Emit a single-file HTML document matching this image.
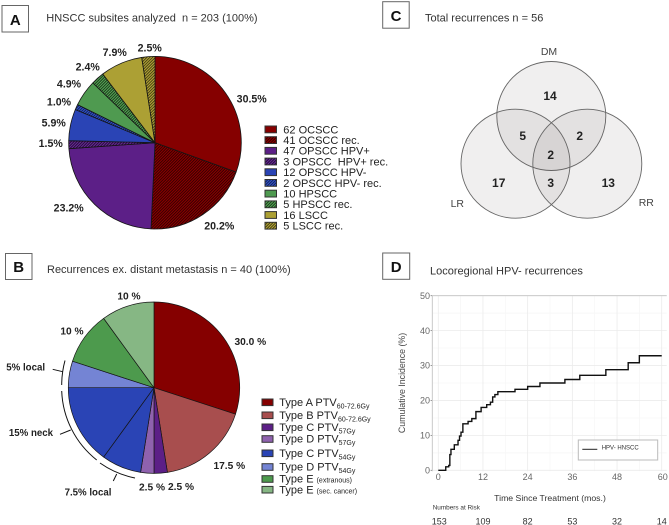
<!DOCTYPE html>
<html lang="en">
<head>
<meta charset="utf-8">
<title>HNSCC recurrence figure</title>
<style>
html,body{margin:0;padding:0;background:#fff}
svg{display:block;position:absolute;left:0;top:0;filter:blur(0.3px)}
text{font-family:"Liberation Sans",sans-serif;white-space:pre;fill:#222}
.ttl{font-size:11px;fill:#333}
.pl{font-size:10.6px;font-weight:bold;text-anchor:middle;fill:#222}
.plb{font-size:10.2px;font-weight:bold;text-anchor:middle;fill:#222}
.pls{font-size:9.7px;font-weight:bold;text-anchor:middle;fill:#222}
.lg{font-size:11px;fill:#222}
.sb{font-size:7px}
.letter{font-size:15px;font-weight:bold;text-anchor:middle;fill:#111}
.box{fill:#fff;stroke:#666;stroke-width:1}
.sw{stroke:#333;stroke-width:1}
.vn{font-size:12px;font-weight:bold;text-anchor:middle;fill:#222}
.vl{font-size:10.5px;text-anchor:middle;fill:#444}
.tk{font-size:9px;fill:#666;text-anchor:middle}
</style>
</head>
<body>
<svg id="fig" width="669" height="525" viewBox="0 0 669 525" xmlns="http://www.w3.org/2000/svg">
<defs>
<pattern id="h-red" patternUnits="userSpaceOnUse" width="2" height="2" patternTransform="rotate(-45)"><rect width="2" height="2" fill="#8f0000"/><rect width="2" height="0.9" fill="#2a0000"/></pattern>
<pattern id="h-pur" patternUnits="userSpaceOnUse" width="2" height="2" patternTransform="rotate(-45)"><rect width="2" height="2" fill="#6a2a98"/><rect width="2" height="0.9" fill="#1e0a30"/></pattern>
<pattern id="h-blu" patternUnits="userSpaceOnUse" width="2" height="2" patternTransform="rotate(-45)"><rect width="2" height="2" fill="#3355cc"/><rect width="2" height="0.9" fill="#101c50"/></pattern>
<pattern id="h-grn" patternUnits="userSpaceOnUse" width="2" height="2" patternTransform="rotate(-45)"><rect width="2" height="2" fill="#58a858"/><rect width="2" height="0.9" fill="#143014"/></pattern>
<pattern id="h-oli" patternUnits="userSpaceOnUse" width="2" height="2" patternTransform="rotate(-45)"><rect width="2" height="2" fill="#b8aa38"/><rect width="2" height="0.9" fill="#3a3410"/></pattern>
</defs>

<!-- Panel A -->
<rect class="box" x="2" y="5.5" width="26.5" height="26.5"/>
<text class="letter" x="15.3" y="25">A</text>
<text class="ttl" x="46.3" y="21.5">HNSCC subsites analyzed  n = 203 (100%)</text>
<g id="pieA"></g>
<text class="pl" x="251.7" y="102.5">30.5%</text>
<text class="pl" x="219.3" y="229.5">20.2%</text>
<text class="pl" x="68.7" y="211.5">23.2%</text>
<text class="pl" x="50.7" y="147">1.5%</text>
<text class="pl" x="53.7" y="126.5">5.9%</text>
<text class="pl" x="59" y="105.5">1.0%</text>
<text class="pl" x="69" y="87.5">4.9%</text>
<text class="pl" x="87.7" y="70.5">2.4%</text>
<text class="pl" x="114.7" y="56">7.9%</text>
<text class="pl" x="149.7" y="51.5">2.5%</text>
<g>
<rect class="sw" x="265" y="126" width="11.5" height="6.8" fill="#850000"/><text class="lg" x="283.3" y="133.3">62 OCSCC</text>
<rect class="sw" x="265" y="136.7" width="11.5" height="6.8" fill="url(#h-red)"/><text class="lg" x="283.3" y="144">41 OCSCC rec.</text>
<rect class="sw" x="265" y="147.4" width="11.5" height="6.8" fill="#5c1f87"/><text class="lg" x="283.3" y="154.7">47 OPSCC HPV+</text>
<rect class="sw" x="265" y="158.1" width="11.5" height="6.8" fill="url(#h-pur)"/><text class="lg" x="283.3" y="165.4">3 OPSCC  HPV+ rec.</text>
<rect class="sw" x="265" y="168.8" width="11.5" height="6.8" fill="#2a44b5"/><text class="lg" x="283.3" y="176.1">12 OPSCC HPV-</text>
<rect class="sw" x="265" y="179.5" width="11.5" height="6.8" fill="url(#h-blu)"/><text class="lg" x="283.3" y="186.8">2 OPSCC HPV- rec.</text>
<rect class="sw" x="265" y="190.2" width="11.5" height="6.8" fill="#4f9a50"/><text class="lg" x="283.3" y="197.5">10 HPSCC</text>
<rect class="sw" x="265" y="200.9" width="11.5" height="6.8" fill="url(#h-grn)"/><text class="lg" x="283.3" y="208.2">5 HPSCC rec.</text>
<rect class="sw" x="265" y="211.6" width="11.5" height="6.8" fill="#aca034"/><text class="lg" x="283.3" y="218.9">16 LSCC</text>
<rect class="sw" x="265" y="222.3" width="11.5" height="6.8" fill="url(#h-oli)"/><text class="lg" x="283.3" y="229.6">5 LSCC rec.</text>
</g>

<!-- Panel B -->
<rect class="box" x="5.5" y="253.5" width="26.5" height="26"/>
<text class="letter" x="18.7" y="272">B</text>
<text class="ttl" x="47" y="273">Recurrences ex. distant metastasis n = 40 (100%)</text>
<g id="pieB"></g>
<g fill="none" stroke="#111" stroke-width="1">
<path d="M65 360.5 A92.5 92.5 0 0 0 61.7 385"/>
<path d="M61.7 391 A92.5 92.5 0 0 0 96.7 460"/>
<path d="M100 463 A92.5 92.5 0 0 0 135 478"/>
<path d="M52.7 369.3 L62.7 371.7"/>
<path d="M60 434.3 L70.7 430"/>
<path d="M113.3 481 L116.7 474"/>
</g>
<text class="plb" x="250.3" y="345">30.0 %</text>
<text class="plb" x="229.3" y="469">17.5 %</text>
<text class="plb" x="181" y="490">2.5 %</text>
<text class="plb" x="152" y="490.3">2.5 %</text>
<text class="pls" x="88" y="495.5">7.5% local</text>
<text class="pls" x="31" y="435.8">15% neck</text>
<text class="pls" x="25.7" y="370.5">5% local</text>
<text class="plb" x="72" y="334.3">10 %</text>
<text class="plb" x="129" y="299.3">10 %</text>
<g>
<rect class="sw" x="262" y="399" width="11" height="6.6" fill="#850000"/><text class="lg" x="279.3" y="406">Type A PTV<tspan class="sb" dy="2.5">60-72.6Gy</tspan></text>
<rect class="sw" x="262" y="412" width="11" height="6.6" fill="#a84e4e"/><text class="lg" x="279.3" y="419">Type B PTV<tspan class="sb" dy="2.5">60-72.6Gy</tspan></text>
<rect class="sw" x="262" y="424" width="11" height="6.6" fill="#5c1f87"/><text class="lg" x="279.3" y="431">Type C PTV<tspan class="sb" dy="2.5">57Gy</tspan></text>
<rect class="sw" x="262" y="435.7" width="11" height="6.6" fill="#8f62ae"/><text class="lg" x="279.3" y="442.5">Type D PTV<tspan class="sb" dy="2.5">57Gy</tspan></text>
<rect class="sw" x="262" y="450" width="11" height="6.6" fill="#2a44b5"/><text class="lg" x="279.3" y="457">Type C PTV<tspan class="sb" dy="2.5">54Gy</tspan></text>
<rect class="sw" x="262" y="463.7" width="11" height="6.6" fill="#7484d4"/><text class="lg" x="279.3" y="470.5">Type D PTV<tspan class="sb" dy="2.5">54Gy</tspan></text>
<rect class="sw" x="262" y="475.7" width="11" height="6.6" fill="#4d9a4d"/><text class="lg" x="279.3" y="482.7">Type E <tspan class="sb">(extranous)</tspan></text>
<rect class="sw" x="262" y="486.4" width="11" height="6.6" fill="#86b784"/><text class="lg" x="279.3" y="493.3">Type E <tspan class="sb">(sec. cancer)</tspan></text>
</g>

<!-- Panel C -->
<rect class="box" x="382.7" y="1.7" width="26.5" height="26.5"/>
<text class="letter" x="396" y="21">C</text>
<text class="ttl" x="425" y="21.5">Total recurrences n = 56</text>
<g fill="rgb(100,88,88)" fill-opacity="0.095" stroke="#666" stroke-width="0.9">
<circle cx="551.3" cy="116" r="54.5"/>
<circle cx="515.5" cy="163.7" r="54.5"/>
<circle cx="587.3" cy="163.7" r="54.5"/>
</g>
<text class="vl" x="549" y="55">DM</text>
<text class="vl" x="457.3" y="207">LR</text>
<text class="vl" x="646.3" y="206">RR</text>
<text class="vn" x="550" y="100">14</text>
<text class="vn" x="522.7" y="140">5</text>
<text class="vn" x="579.7" y="140">2</text>
<text class="vn" x="550.7" y="159">2</text>
<text class="vn" x="498.7" y="187">17</text>
<text class="vn" x="550.7" y="187">3</text>
<text class="vn" x="608.3" y="187">13</text>

<!-- Panel D -->
<rect class="box" x="382.7" y="253" width="27" height="26.3"/>
<text class="letter" x="396.2" y="272">D</text>
<text class="ttl" x="430" y="274.5">Locoregional HPV- recurrences</text>
<g id="chartD"></g>
<text transform="translate(405,383) rotate(-90)" font-size="8.8" text-anchor="middle" style="fill:#444">Cumulative Incidence (%)</text>
<text x="550" y="501" font-size="8.7" text-anchor="middle" style="fill:#333">Time Since Treatment (mos.)</text>
<text x="432.7" y="509.5" font-size="6.4" style="fill:#333">Numbers at Risk</text>
<rect x="578.3" y="440" width="79.4" height="20" fill="#fff" stroke="#bbb" stroke-width="1"/>
<line x1="582.3" y1="449.3" x2="597.3" y2="449.3" stroke="#222" stroke-width="1"/>
<text x="601.7" y="449.7" font-size="6" style="fill:#333">HPV- HNSCC</text>

<script>
// Panel A values
const countsA = [62, 41, 47, 3, 12, 2, 10, 5, 16, 5];
const fillsA = ['#850000', 'url(#h-red)', '#5c1f87', 'url(#h-pur)', '#2a44b5', 'url(#h-blu)', '#4f9a50', 'url(#h-grn)', '#aca034', 'url(#h-oli)'];
// Panel B values
const percentsB = [30, 17.5, 2.5, 2.5, 7.5, 15, 5, 10, 10];
const fillsB = ['#850000', '#a84e4e', '#5c1f87', '#8f62ae', '#2a44b5', '#2a44b5', '#7484d4', '#4d9a4d', '#86b784'];
// Panel D values
const months = [0, 2, 2.8, 3.1, 3.4, 4.3, 5.3, 5.7, 6.1, 6.6, 8, 9, 10.1, 11.5, 13, 14, 14.6, 15.2, 16, 20.6, 24, 27.3, 34, 38, 45, 51, 54, 60];
const incidence = [0, 1, 1.4, 4.5, 6, 7.3, 8.6, 9.8, 10.9, 13.3, 14, 14.8, 16.8, 18, 18.8, 19.5, 21, 21.7, 22.5, 23.2, 24, 25, 26, 27.2, 28.8, 30.8, 32.8, 32.8];
const xTicks = [0, 12, 24, 36, 48, 60];
const yTicks = [0, 10, 20, 30, 40, 50];
const atRisk = [153, 109, 82, 53, 32, 14];

const NS = 'http://www.w3.org/2000/svg';
function make(tag, attrs, parent) {
  const el = document.createElementNS(NS, tag);
  for (const k in attrs) el.setAttribute(k, attrs[k]);
  parent.appendChild(el);
  return el;
}

function drawPie(group, values, fills, cx, cy, r, sw, namePrefix) {
  const total = values.reduce((a, b) => a + b, 0);
  let acc = 0;
  values.forEach((v, i) => {
    const a0 = acc / total * 2 * Math.PI;
    acc += v;
    const a1 = acc / total * 2 * Math.PI;
    const x0 = cx + r * Math.sin(a0), y0 = cy - r * Math.cos(a0);
    const x1 = cx + r * Math.sin(a1), y1 = cy - r * Math.cos(a1);
    const large = a1 - a0 > Math.PI ? 1 : 0;
    const p = make('path', {
      d: `M${cx} ${cy} L${x0} ${y0} A${r} ${r} 0 ${large} 1 ${x1} ${y1} Z`,
      fill: fills[i], stroke: '#151515', 'stroke-width': sw, 'stroke-linejoin': 'round'
    }, group);
    
    
  });
}
drawPie(document.getElementById('pieA'), countsA, fillsA, 155, 142.7, 86.3, 0.8, 'pie-a');
drawPie(document.getElementById('pieB'), percentsB, fillsB, 154, 387.7, 85.7, 0.7, 'pie-b');

// Chart D
const chart = document.getElementById('chartD');
const x0px = 438.3, x60px = 661.7, y0px = 470.3, y50px = 295.7;
const xScale = m => x0px + (m / 60) * (x60px - x0px);
const yScale = v => y0px + (v / 50) * (y50px - y0px);

for (let m = 6; m <= 60; m += 12) {
  const g = make('line', { x1: xScale(m), x2: xScale(m), y1: y50px, y2: y0px + 1, stroke: '#f6f6f6', 'stroke-width': 0.7 }, chart);
  
  
}
for (let v = 5; v <= 45; v += 10) {
  const g = make('line', { x1: 432.3, x2: 666.7, y1: yScale(v), y2: yScale(v), stroke: '#f6f6f6', 'stroke-width': 0.7 }, chart);
  
  
}
xTicks.forEach((t, i) => {
  const g = make('line', { x1: xScale(t), x2: xScale(t), y1: y50px, y2: y0px + 1, stroke: '#ebebeb', 'stroke-width': 0.8 }, chart);
  
  
  const lab = make('text', { x: xScale(t) + (t === 60 ? 1 : 0), y: 480, class: 'tk' }, chart);
  
  
  lab.textContent = t;
  const risk = make('text', { x: xScale(t) + (i === 0 ? 1 : 0), y: 524.5, class: 'tk', style: 'fill:#333' }, chart);
  
  
  risk.textContent = atRisk[i];
});
yTicks.forEach(t => {
  const g = make('line', { x1: 432.3, x2: 666.7, y1: yScale(t), y2: yScale(t), stroke: '#ebebeb', 'stroke-width': 0.8 }, chart);
  
  
  const mark = make('line', { x1: 430.6, x2: 432.3, y1: yScale(t), y2: yScale(t), stroke: '#777', 'stroke-width': 0.8 }, chart);
  
  
  const lab = make('text', { x: 430, y: yScale(t) + 3.2, class: 'tk', style: 'text-anchor:end' }, chart);
  
  
  lab.textContent = t;
});
const frame = make('path', { d: `M432.3 ${y0px + 1} V${y50px} H666.7`, fill: 'none', stroke: '#c4c4c4', 'stroke-width': 0.9 }, chart);



let d = `M${xScale(months[0])} ${yScale(incidence[0])}`;
for (let i = 1; i < months.length; i++) {
  d += ` H${xScale(months[i])} V${yScale(incidence[i])}`;
}
const curve = make('path', { d: d, fill: 'none', stroke: '#111', 'stroke-width': 1.4 }, chart);


</script>
</svg>
</body>
</html>
